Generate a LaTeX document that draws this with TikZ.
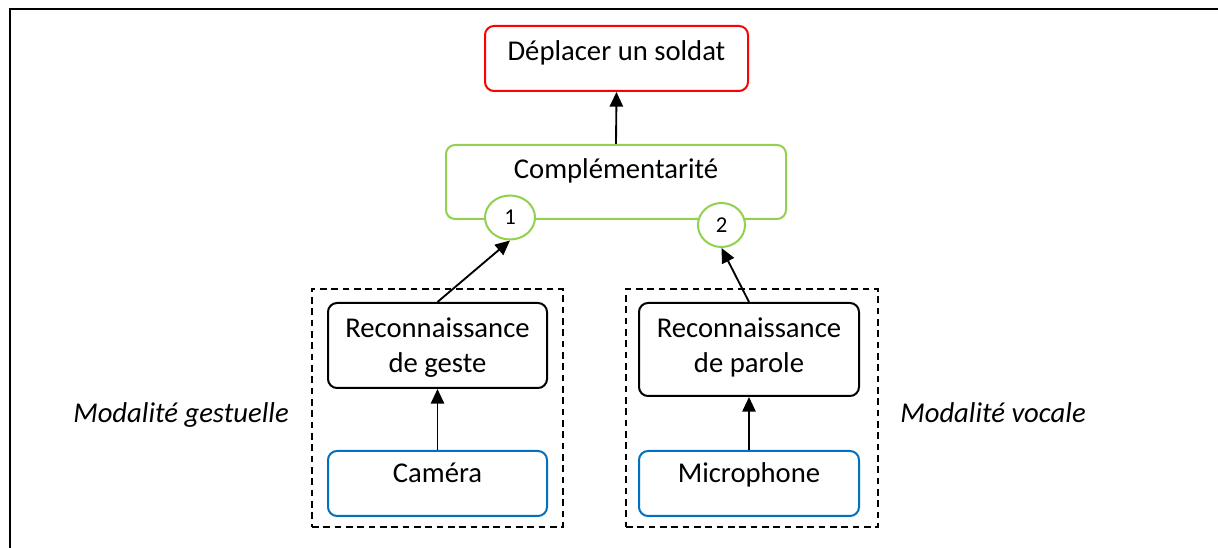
\documentclass[tikz,border=0pt]{standalone}
\usepackage{fontspec}
\setmainfont{Carlito}
\usetikzlibrary{shapes.geometric,arrows.meta}
\newlength\pxu \setlength\pxu{0.75pt}
\definecolor{dred}{HTML}{FF0000}
\definecolor{dgreen}{HTML}{92D050}
\definecolor{dblue}{HTML}{0070C0}
\begin{document}
\begin{tikzpicture}[x=0.75pt,y=-0.75pt,
  box/.style={draw, rounded corners=9\pxu, line width=1.5pt, fill=white, inner sep=0pt},
  dbox/.style={draw, dashed, dash pattern=on 5pt off 3.5pt, line width=1.1pt, inner sep=0pt},
  oval/.style={ellipse, draw=dgreen, line width=1.5pt, fill=white, inner sep=0pt, font=\fontsize{17}{20}\selectfont},
  txt/.style={anchor=base, inner sep=0pt, align=center, font=\fontsize{21.5}{26.25}\selectfont},
  arr/.style={-{Triangle[length=11pt,width=10pt]}, line width=1.4pt}]
\useasboundingbox (0,0) rectangle (1218,548);
\draw[line width=1.5pt] (1218,9.5) -- (9.5,9.5) -- (9.5,548);
% dashed groups
\node[dbox, minimum width=251\pxu, minimum height=238\pxu] (gg) at (437.5,408) {};
\node[dbox, minimum width=252\pxu, minimum height=238\pxu] (gv) at (752,408) {};
% boxes
\node[box, draw=dred, minimum width=263\pxu, minimum height=65\pxu] (dep) at (616.5,58.5) {};
\node[txt] (dept) at (616.5,61) {Déplacer un soldat};
\node[box, draw=dgreen, minimum width=340\pxu, minimum height=74\pxu] (comp) at (616,182) {};
\node[txt] (compt) at (616,179) {Complémentarité};
\node[oval, minimum width=50\pxu, minimum height=44\pxu] (c1) at (510,217.5) {1};
\node[oval, minimum width=47\pxu, minimum height=44\pxu] (c2) at (721.5,225) {2};
\node[box, minimum width=219\pxu, minimum height=85\pxu] (recog) at (437.5,345.5) {};
\node[txt] (recogt) at (437.5,373) {Reconnaissance\\de geste};
\node[box, minimum width=220\pxu, minimum height=93\pxu] (recop) at (749,349.5) {};
\node[txt] (recopt) at (749,373) {Reconnaissance\\de parole};
\node[box, draw=dblue, minimum width=219\pxu, minimum height=65\pxu] (cam) at (437.5,483.5) {};
\node[txt] (camt) at (437.5,483) {Caméra};
\node[box, draw=dblue, minimum width=220\pxu, minimum height=65\pxu] (mic) at (749,483.5) {};
\node[txt] (mict) at (749,483) {Microphone};
\node[txt, font=\fontsize{21.5}{26.25}\selectfont\itshape] (mg) at (181,423) {Modalité gestuelle};
\node[txt, font=\fontsize{21.5}{26.25}\selectfont\itshape] (mv) at (993,423) {Modalité vocale};
% arrows
\draw[arr] (comp.north) -- (dep.south);
\draw[arr] (recog.north) -- (c1.south);
\draw[arr] (recop.north) -- (c2.south);
\draw[arr] (cam.north) -- (recog.south);
\draw[arr] (mic.north) -- (recop.south);
\end{tikzpicture}
\end{document}
